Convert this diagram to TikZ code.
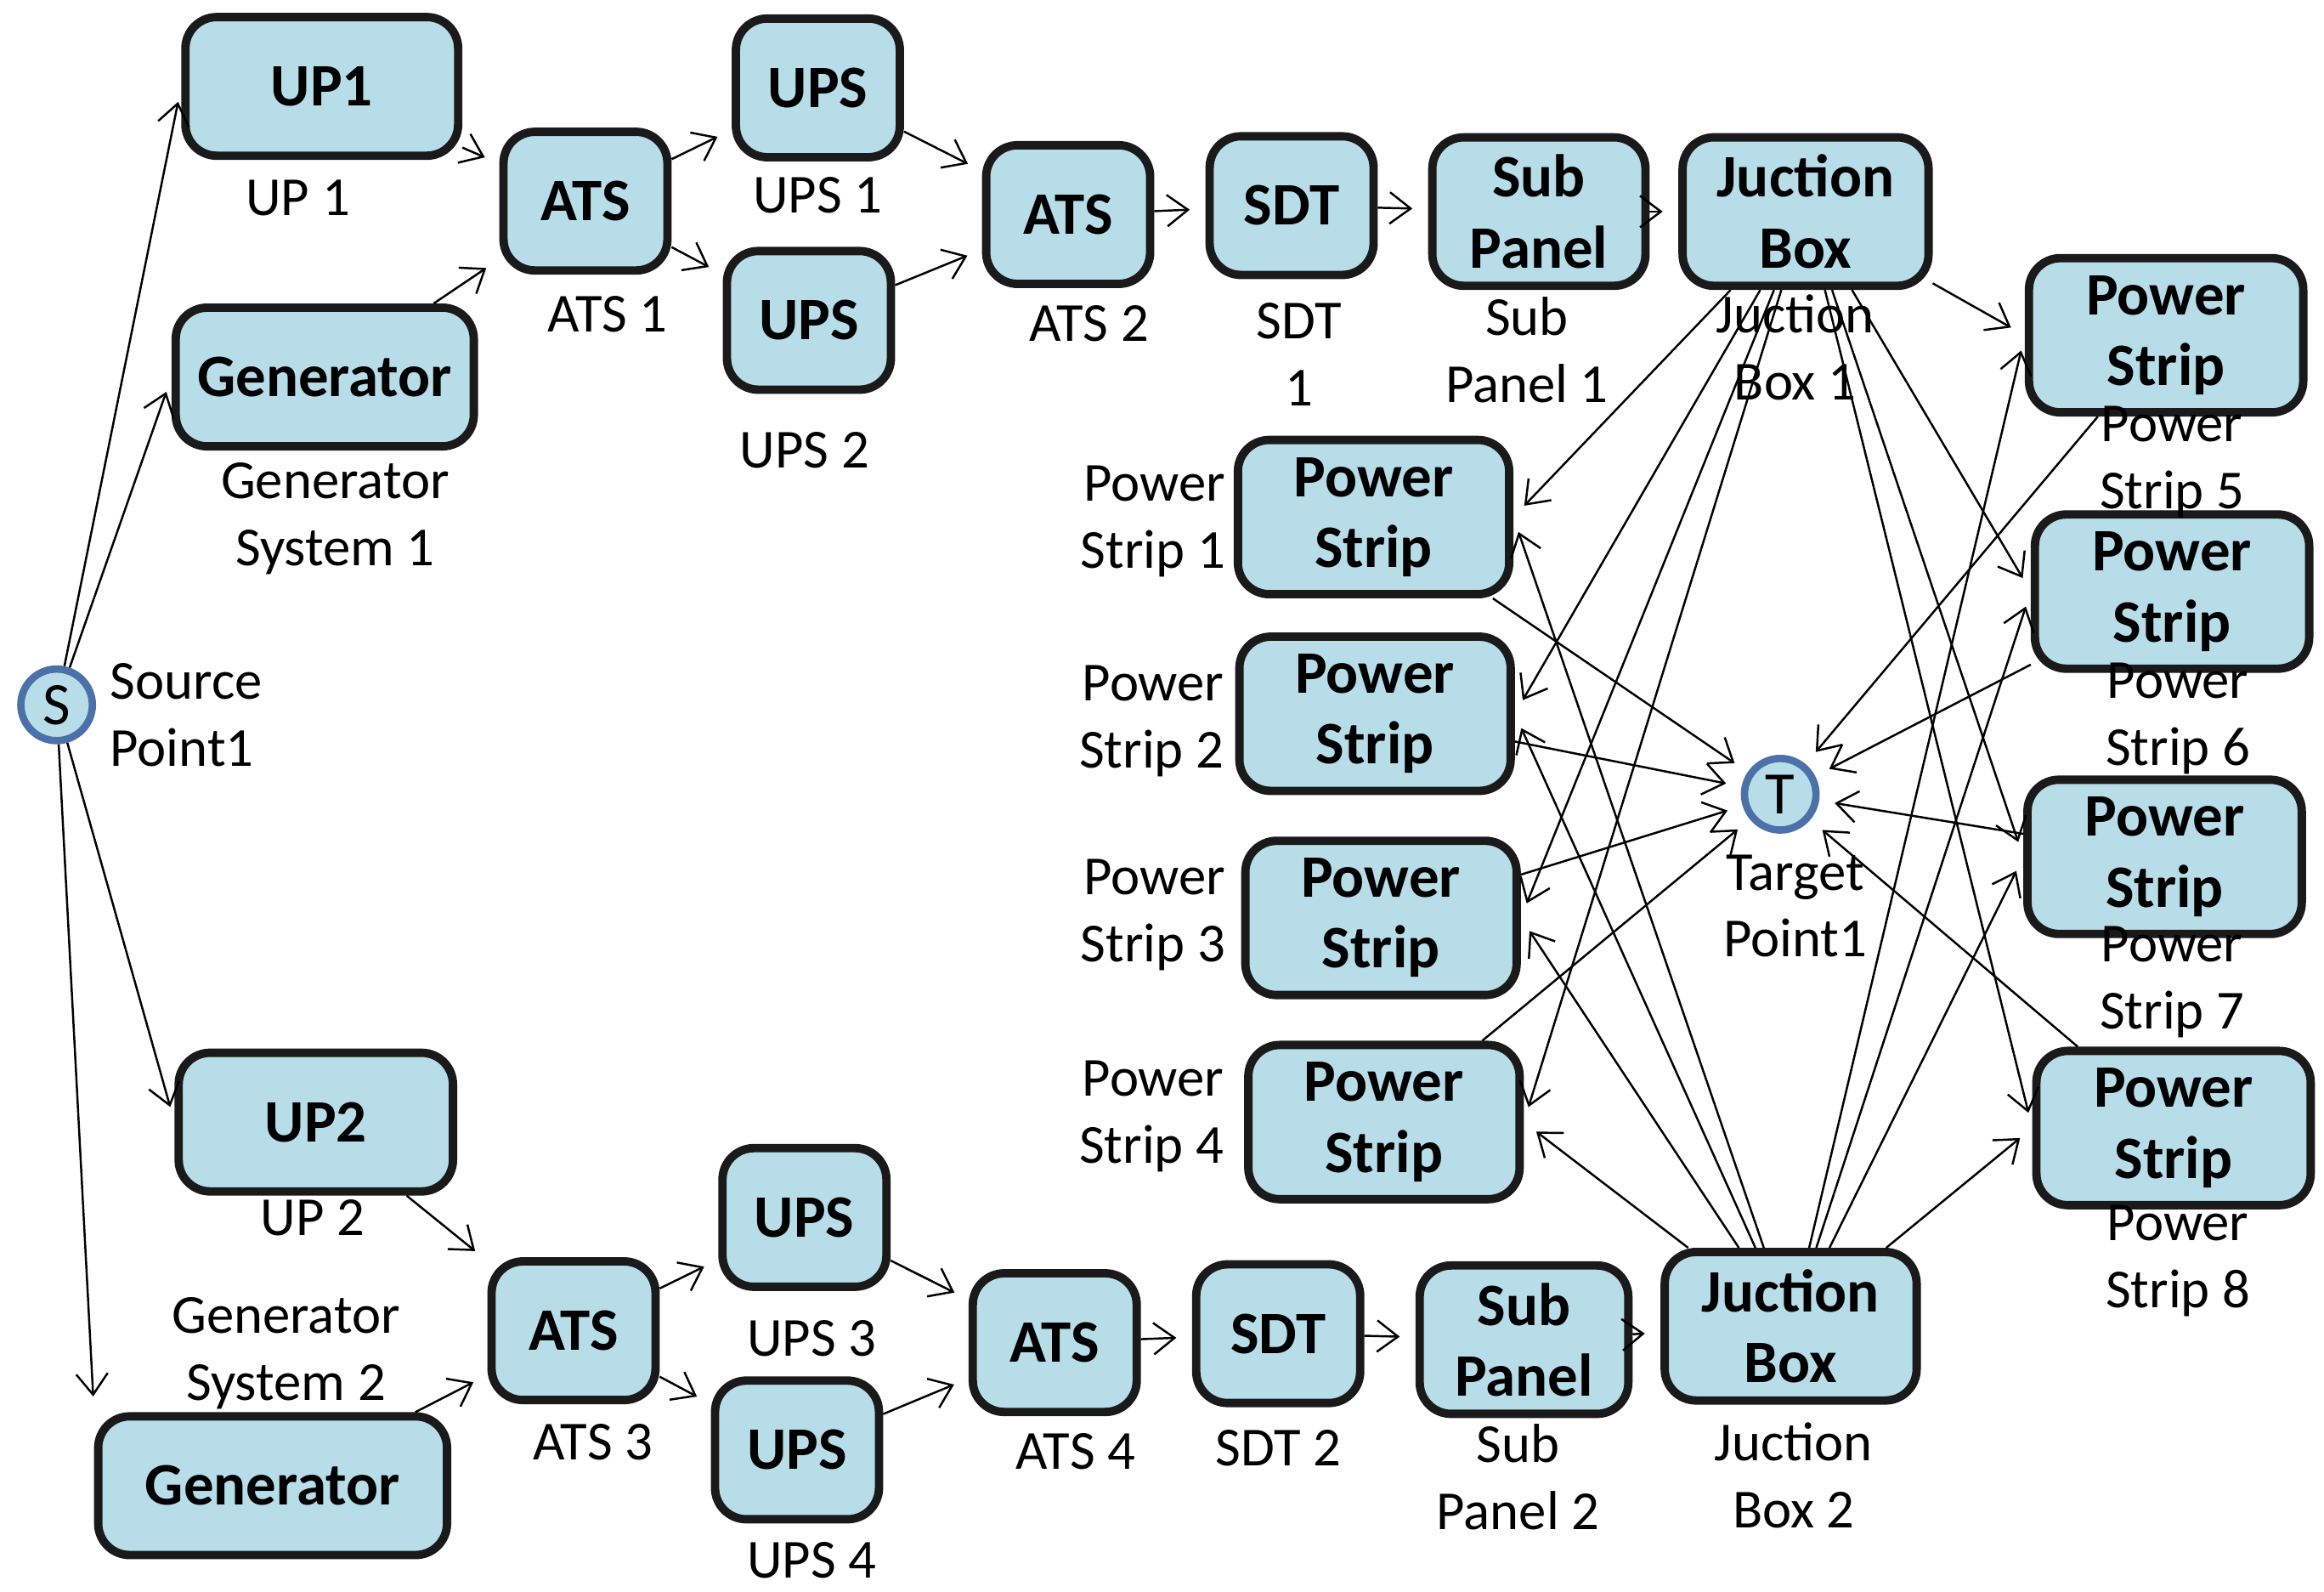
\documentclass[tikz,border=0pt]{standalone}
\usepackage{fontspec}
\setmainfont{Carlito}
\usetikzlibrary{positioning, arrows.meta}
\definecolor{boxfill}{HTML}{B7DDE8}
\definecolor{boxline}{HTML}{1A1A1A}
\definecolor{ptline}{HTML}{4A72A8}
\tikzset{
	blk/.style={draw=boxline, line width=1.6pt, fill=boxfill, rounded corners=6pt,
		minimum width=#1, minimum height=0.93cm, font=\fontsize{11.5}{13.5}\selectfont\bfseries, align=center},
	blk/.default=1.1cm,
	pt/.style={circle, draw=ptline, line width=1.4pt, fill=boxfill, minimum size=0.48cm, inner sep=0pt,
		font=\fontsize{11.5}{13}\selectfont},
	lbl/.style={font=\fontsize{10.5}{12.8}\selectfont, align=center, inner sep=1pt},
	cn/.style={-{Straight Barb[length=4pt,width=6pt]}, thin, shorten >=3pt}
}
\begin{document}
\begin{tikzpicture}[x=0.01cm, y=-0.01cm]
	\useasboundingbox (0,0) rectangle (1560,1068);
	% end points
	\node[pt] (s) at (38,473) {S};
	\node[pt] (t) at (1195,533) {T};
	% upper branch
	\node[blk=1.83cm] (up1) at (216,58) {UP1};
	\node[blk=2cm] (gen1) at (218,253) {Generator};
	\node[blk] (ats1) at (393,135) {ATS};
	\node[blk] (ups1) at (549,59) {UPS};
	\node[blk] (ups2) at (543,215) {UPS};
	\node[blk] (ats2) at (717,144) {ATS};
	\node[blk] (sdt1) at (867,138) {SDT};
	\node[blk=1.43cm] (sp1) at (1033,142) {Sub\\Panel};
	\node[blk=1.65cm] (jb1) at (1212,142) {Juction\\Box};
	% lower branch
	\node[blk=1.84cm] (up2) at (212,753) {UP2};
	\node[blk=2.34cm] (gen2) at (183,997) {Generator};
	\node[blk] (ats3) at (385,893) {ATS};
	\node[blk] (ups3) at (540,817) {UPS};
	\node[blk] (ups4) at (535,973) {UPS};
	\node[blk] (ats4) at (708,901) {ATS};
	\node[blk] (sdt2) at (858,895) {SDT};
	\node[blk=1.4cm] (sp2) at (1023,899) {Sub\\Panel};
	\node[blk=1.69cm] (jb2) at (1202,890) {Juction\\Box};
	% power strips
	\node[blk=1.82cm] (ps1) at (922,347) {Power\\Strip};
	\node[blk=1.82cm] (ps2) at (923,479) {Power\\Strip};
	\node[blk=1.82cm] (ps3) at (927,616) {Power\\Strip};
	\node[blk=1.82cm] (ps4) at (929,753) {Power\\Strip};
	\node[blk=1.84cm] (ps5) at (1454,225) {Power\\Strip};
	\node[blk=1.84cm] (ps6) at (1458,397) {Power\\Strip};
	\node[blk=1.84cm] (ps7) at (1453,575) {Power\\Strip};
	\node[blk=1.84cm] (ps8) at (1459,757) {Power\\Strip};
	% labels
	\node[lbl, align=left] (lsrc) at (125,480) {Source\\Point1};
	\node[lbl] (ltgt) at (1205,608) {Target\\Point1};
	\node[lbl] (lup1) at (200,133) {UP 1};
	\node[lbl] (lgen1) at (225,348) {Generator\\System 1};
	\node[lbl] (lup2) at (210,817) {UP 2};
	\node[lbl] (lgen2) at (192,908) {Generator\\System 2};
	\node[lbl] (lats1) at (408,211) {ATS 1};
	\node[lbl] (lats3) at (398,968) {ATS 3};
	\node[lbl] (lups1) at (549,131) {UPS 1};
	\node[lbl] (lups2) at (540,302) {UPS 2};
	\node[lbl] (lups3) at (545,898) {UPS 3};
	\node[lbl] (lups4) at (545,1047) {UPS 4};
	\node[lbl] (lats2) at (731,217) {ATS 2};
	\node[lbl] (lats4) at (722,974) {ATS 4};
	\node[lbl] (lsdt1) at (872,238) {SDT\\1};
	\node[lbl] (lsdt2) at (858,972) {SDT 2};
	\node[lbl] (lsp1) at (1025,235) {Sub\\Panel 1};
	\node[lbl] (lsp2) at (1019,991) {Sub\\Panel 2};
	\node[lbl] (ljb1) at (1205,233) {Juction\\Box 1};
	\node[lbl] (ljb2) at (1204,990) {Juction\\Box 2};
	\node[lbl, align=right] (lps1) at (774,350) {Power\\Strip 1};
	\node[lbl, align=right] (lps2) at (773,484) {Power\\Strip 2};
	\node[lbl, align=right] (lps3) at (774,614) {Power\\Strip 3};
	\node[lbl, align=right] (lps4) at (773,749) {Power\\Strip 4};
	\node[lbl] (lps5) at (1458,310) {Power\\Strip 5};
	\node[lbl] (lps6) at (1462,482) {Power\\Strip 6};
	\node[lbl] (lps7) at (1458,659) {Power\\Strip 7};
	\node[lbl] (lps8) at (1462,846) {Power\\Strip 8};
	% connectors
	\draw[cn] (s) -- (up1.west);
	\draw[cn] (s) -- (gen1.west);
	\draw[cn] (s) -- (up2.west);
	\draw[cn] (s) -- (gen2.north west);
	\foreach \a/\b in {up1/ats1, gen1/ats1, ats1/ups1, ats1/ups2, ups1/ats2, ups2/ats2,
		ats2/sdt1, sdt1/sp1, sp1/jb1, up2/ats3, gen2/ats3, ats3/ups3, ats3/ups4,
		ups3/ats4, ups4/ats4, ats4/sdt2, sdt2/sp2, sp2/jb2}
		\draw[cn] (\a) -- (\b);
	\foreach \p in {ps1, ps2, ps3, ps4} {
		\draw[cn] (jb1) -- (\p.east);
		\draw[cn] (jb2) -- (\p.east);
		\draw[cn] (\p) -- (t);
	}
	\foreach \p in {ps5, ps6, ps7, ps8} {
		\draw[cn] (jb1) -- (\p.west);
		\draw[cn] (jb2) -- (\p.west);
		\draw[cn] (\p) -- (t);
	}
\end{tikzpicture}
\end{document}
